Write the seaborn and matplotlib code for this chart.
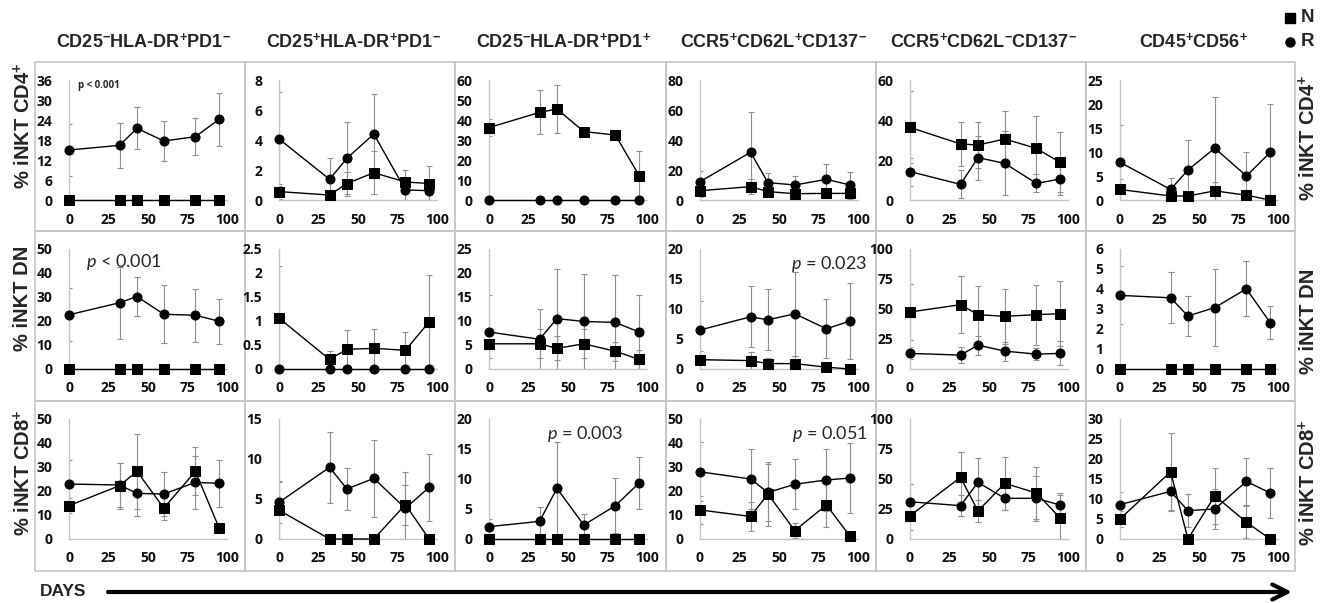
import numpy as np
import pandas as pd
import matplotlib
matplotlib.use("Agg")
import matplotlib.pyplot as plt
import seaborn as sns
from matplotlib.patches import Rectangle

# ---------------- data ----------------
DAYS = [0, 32, 43, 60, 80, 95]
X_TICKS = [0, 25, 50, 75, 100]

COL_TITLES = [
    r"CD25$^{\mathbf{-}}$HLA-DR$^{\mathbf{+}}$PD1$^{\mathbf{-}}$",
    r"CD25$^{\mathbf{+}}$HLA-DR$^{\mathbf{+}}$PD1$^{\mathbf{-}}$",
    r"CD25$^{\mathbf{-}}$HLA-DR$^{\mathbf{+}}$PD1$^{\mathbf{+}}$",
    r"CCR5$^{\mathbf{+}}$CD62L$^{\mathbf{+}}$CD137$^{\mathbf{-}}$",
    r"CCR5$^{\mathbf{+}}$CD62L$^{\mathbf{-}}$CD137$^{\mathbf{-}}$",
    r"CD45$^{\mathbf{+}}$CD56$^{\mathbf{+}}$",
]
ROW_LABELS = [r"% iNKT CD4$^{\mathbf{+}}$", r"% iNKT DN", r"% iNKT CD8$^{\mathbf{+}}$"]

# row CD4+
CD4_N = [[0, 0, 0, 0, 0, 0],
         [0.56, 0.33, 1.1, 1.82, 1.2, 1.1],
         [36.2, 43.8, 45.5, 34.2, 32.5, 12.2],
         [6.2, 8.9, 5.6, 4.2, 4.4, 4.4],
         [36.3, 28.0, 27.5, 30.5, 25.8, 18.8],
         [2.2, 0.83, 0.83, 1.9, 1.0, 0]]
CD4_N_ERR = [[0, 0, 0, 0, 0, 0],
             [0.5, 0.2, 0.8, 1.45, 0.8, 1.15],
             [4.3, 11.0, 12.0, 1.0, 1.0, 12.3],
             [4, 5, 3, 2, 2, 3],
             [18, 11, 11.5, 14, 16, 15],
             [2.2, 0.5, 0.5, 1.8, 1, 0]]
CD4_R = [[15.0, 16.4, 21.5, 17.7, 19.0, 24.2],
         [4.07, 1.38, 2.78, 4.4, 0.67, 0.62],
         [0, 0, 0, 0, 0, 0],
         [12.2, 31.8, 11.6, 10.0, 13.8, 10.0],
         [14.2, 7.8, 21.2, 18.3, 8.3, 10.5],
         [7.85, 2.2, 6.25, 10.8, 5.0, 9.9]]
CD4_R_ERR = [[7.7, 6.8, 6.3, 6.0, 5.5, 8.0],
             [3.15, 1.45, 2.4, 2.65, 0.7, 0.6],
             [0, 0, 0, 0, 0, 0],
             [7, 26.6, 6.2, 6, 10, 9],
             [7, 7, 11, 16, 4.5, 8],
             [7.8, 2.3, 6.2, 10.7, 4.9, 10.2]]

# row DN
DN_N = [[0, 0, 0, 0, 0, 0],
        [1.06, 0.2, 0.41, 0.43, 0.39, 0.98],
        [5.25, 5.25, 4.3, 5.25, 3.7, 2.0],
        [1.55, 1.4, 0.9, 0.9, 0.3, 0],
        [47.5, 53.6, 45.3, 43.9, 45.3, 46.1],
        [0, 0, 0, 0, 0, 0]]
DN_N_ERR = [[0, 0, 0, 0, 0, 0],
            [1.08, 0.17, 0.41, 0.41, 0.38, 0.98],
            [3, 3, 2.5, 3, 2, 2],
            [1.5, 1.4, 1, 1.2, 0.3, 0],
            [23, 24, 24, 23, 25, 27],
            [0, 0, 0, 0, 0, 0]]
DN_R = [[22.6, 27.6, 30.2, 22.8, 22.4, 19.9],
        [0, 0, 0, 0, 0, 0],
        [7.7, 6.2, 10.5, 9.9, 9.7, 7.7],
        [6.5, 8.7, 8.2, 9.2, 6.7, 8.0],
        [13, 11.6, 19.9, 14.9, 12.4, 13],
        [3.68, 3.56, 2.65, 3.07, 4.01, 2.32]]
DN_R_ERR = [[11, 15, 8, 12, 11, 9.4],
            [0, 0, 0, 0, 0, 0],
            [7.8, 6.2, 10.4, 9.9, 9.8, 7.8],
            [4.8, 5.1, 5.1, 7, 4.9, 6.4],
            [5, 7, 8, 8, 5, 10],
            [1.45, 1.28, 0.98, 1.93, 1.38, 0.83]]

# row CD8+
CD8_N = [[13.9, 22.2, 28.2, 12.9, 28.2, 4.6],
         [3.6, 0, 0, 0, 4.3, 0],
         [0, 0, 0, 0, 0, 0],
         [12.1, 9.4, 18.75, 3.5, 14.2, 1.1],
         [19.4, 51.4, 23.3, 46.4, 38.3, 17.5],
         [5, 16.8, 0, 10.8, 4.2, 0]]
CD8_N_ERR = [[3, 9.5, 15.5, 5, 10, 2],
             [3.6, 0, 0, 0, 2.5, 0],
             [0, 0, 0, 0, 0, 0],
             [6, 6, 13.5, 3, 9, 1],
             [12, 21, 9, 22, 22, 19],
             [2, 9.6, 0, 7, 4, 0]]
CD8_R = [[22.9, 22.5, 19.0, 18.75, 23.6, 23.2],
         [4.58, 8.96, 6.25, 7.58, 3.83, 6.46],
         [2.06, 2.94, 8.44, 2.33, 5.56, 9.33],
         [28, 25, 19.4, 22.8, 24.6, 25.4],
         [31, 27.8, 47.2, 33.9, 33.9, 28.3],
         [8.6, 11.9, 7.1, 7.5, 14.4, 11.5]]
CD8_R_ERR = [[10, 9, 9.3, 9.2, 11, 9.8],
             [2.6, 4.4, 2.6, 4.8, 4.5, 4.2],
             [1.3, 2.4, 7.7, 1.8, 4.6, 4.4],
             [12.3, 12.5, 12, 10.5, 13, 14.6],
             [15, 9, 20, 10, 19, 10],
             [3.2, 5, 4.2, 5, 5.9, 6.2]]

Y_MAX = [[36, 8, 60, 80, 60, 25],
         [50, 2.5, 25, 20, 100, 6],
         [50, 15, 20, 50, 100, 30]]
Y_STEP = [[6, 2, 10, 20, 20, 5],
          [10, 0.5, 5, 5, 25, 1],
          [10, 5, 5, 10, 25, 5]]

P_TEXTS = {(0, 0): "p < 0.001", (1, 0): r"$p$ < 0.001", (1, 3): r"$p$ = 0.023",
           (2, 2): r"$p$ = 0.003", (2, 3): r"$p$ = 0.051"}

ROWS = [(CD4_N, CD4_N_ERR, CD4_R, CD4_R_ERR),
        (DN_N, DN_N_ERR, DN_R, DN_R_ERR),
        (CD8_N, CD8_N_ERR, CD8_R, CD8_R_ERR)]

# ---------------- style ----------------
sns.set_theme(style="white")
plt.rcParams["font.family"] = ["Open Sans", "DejaVu Sans"]
plt.rcParams["font.weight"] = "normal"
plt.rcParams["mathtext.fontset"] = "custom"
plt.rcParams["mathtext.rm"] = "Liberation Sans:bold"
plt.rcParams["mathtext.bf"] = "Liberation Sans:bold"
plt.rcParams["mathtext.it"] = "Lato:italic:normal"

W, H = 1323, 603
fig = plt.figure(figsize=(W / 100, H / 100), dpi=100)
fig.patch.set_facecolor("white")

CELL_X = [35, 245, 455, 666, 876, 1086]
CELL_W = [210, 210, 211, 210, 210, 209]
CELL_Y = [62, 231, 401]
CELL_H = [169, 170, 170]
AX_DX, AX_W, AX_DY, AX_H = 34, 158, 18, 120
GRAY = "#c6c6c6"

# overlay in pixel coordinates for frames, labels, legend, arrow
ov = fig.add_axes([0, 0, 1, 1])
ov.set_xlim(0, W)
ov.set_ylim(H, 0)
ov.axis("off")
ov.set_zorder(0)

for r in range(3):
    for c in range(6):
        ov.add_patch(Rectangle((CELL_X[c], CELL_Y[r]), CELL_W[c], CELL_H[r],
                               fill=False, edgecolor=GRAY, lw=1.2))

title_font = dict(family="Liberation Sans", weight="bold", size=13)
for c in range(6):
    ov.text(CELL_X[c] + CELL_W[c] / 2 + 3, 42, COL_TITLES[c], ha="center", va="center",
            **title_font)

label_font = dict(family="Liberation Sans", weight="bold", size=14.5)
LEFT_Y = [126, 298, 473]
RIGHT_Y = [138, 321, 483]
for r in range(3):
    ov.text(23, LEFT_Y[r], ROW_LABELS[r], rotation=90, ha="center", va="center", **label_font)
    ov.text(1308, RIGHT_Y[r], ROW_LABELS[r], rotation=90, ha="center", va="center", **label_font)

# legend
ov.plot([1290], [18], marker="s", color="black", markersize=6.5, linestyle="None")
ov.plot([1290], [42], marker="o", color="black", markersize=6.5, linestyle="None")
ov.text(1301, 18, "N", ha="left", va="center", family="Liberation Sans", weight="bold", size=13.5)
ov.text(1301, 42, "R", ha="left", va="center", family="Liberation Sans", weight="bold", size=13.5)

# DAYS arrow
ov.text(40, 592, "DAYS", ha="left", va="center", family="Liberation Sans", weight="bold", size=12.5)
ov.annotate("", xy=(1292, 592), xytext=(108, 592),
            arrowprops=dict(arrowstyle="->,head_length=0.9,head_width=0.45",
                            lw=3, color="black", shrinkA=0, shrinkB=0))

for r in range(3):
    Ns, Nerrs, Rs, Rerrs = ROWS[r]
    for c in range(6):
        left = (CELL_X[c] + AX_DX) / W
        bottom = 1 - (CELL_Y[r] + AX_DY + AX_H) / H
        ax = fig.add_axes([left, bottom, AX_W / W, AX_H / H])
        ax.set_facecolor("none")
        ax.set_zorder(2)

        n_vals, n_err = Ns[c], Nerrs[c]
        r_vals, r_err = Rs[c], Rerrs[c]
        for vals, errs in ((n_vals, n_err), (r_vals, r_err)):
            xs = [d for d, e in zip(DAYS, errs) if e > 0]
            ys = [v for v, e in zip(vals, errs) if e > 0]
            es = [e for e in errs if e > 0]
            if xs:
                ax.errorbar(xs, ys, yerr=es, fmt="none", ecolor="#8f8f8f",
                            elinewidth=0.8, capsize=2, capthick=0.8, zorder=1)

        df = pd.DataFrame({
            "day": DAYS + DAYS,
            "value": list(n_vals) + list(r_vals),
            "group": ["N"] * len(DAYS) + ["R"] * len(DAYS),
        })
        sns.lineplot(data=df, x="day", y="value", style="group",
                     style_order=["N", "R"], markers={"N": "s", "R": "o"},
                     dashes=False, color="black", linewidth=1.0, markersize=6.5,
                     markeredgecolor="black", estimator=None, legend=False,
                     ax=ax, clip_on=False, zorder=3)

        ymax, step = Y_MAX[r][c], Y_STEP[r][c]
        ax.set_xlim(0, 100)
        ax.set_ylim(0, ymax)
        ax.set_xticks(X_TICKS)
        yt = np.arange(0, ymax + step / 2, step)
        ax.set_yticks(yt)
        ax.set_yticklabels([f"{v:g}" for v in yt])
        ax.set_xticklabels([f"{v:g}" for v in X_TICKS])
        ax.set_xlabel("")
        ax.set_ylabel("")
        for s in ("top", "right"):
            ax.spines[s].set_visible(False)
        for s in ("left", "bottom"):
            ax.spines[s].set_color(GRAY)
            ax.spines[s].set_linewidth(1.0)
        ax.tick_params(axis="both", direction="in", length=3, width=0.8, color=GRAY,
                       labelsize=10, labelcolor="#111111")
        ax.tick_params(axis="x", pad=9)
        ax.tick_params(axis="y", pad=12)
        for lab in ax.get_xticklabels() + ax.get_yticklabels():
            lab.set_fontweight("bold")
            lab.set_family("Open Sans")

        if (r, c) in P_TEXTS:
            txt = P_TEXTS[(r, c)]
            if (r, c) == (0, 0):
                ax.text(0.06, 0.955, txt, transform=ax.transAxes, ha="left", va="center",
                        fontsize=7, fontweight="bold", family="Open Sans")
            elif c == 0:
                ax.text(0.11, 0.89, txt, transform=ax.transAxes, ha="left", va="center",
                        fontsize=13, fontweight="normal", family="Lato")
            elif c == 2:
                ax.text(0.61, 0.875, txt, transform=ax.transAxes, ha="center", va="center",
                        fontsize=13, fontweight="normal", family="Lato")
            else:
                ax.text(1.06, 0.875, txt, transform=ax.transAxes, ha="right", va="center",
                        fontsize=13, fontweight="normal", family="Lato")

fig.savefig("out.png", dpi=100, facecolor="white")
